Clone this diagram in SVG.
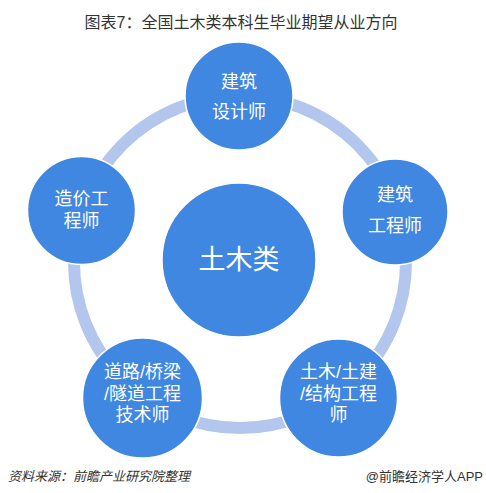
<svg xmlns="http://www.w3.org/2000/svg" width="486" height="493" viewBox="0 0 486 493">
<style>
.node{fill:#3f87e0;stroke:#ffffff;stroke-width:1.5}
.lbl{font-family:"Liberation Sans","Noto Sans CJK SC",sans-serif;font-size:18px;fill:#ffffff;text-anchor:middle;dominant-baseline:central}
.ring{fill:none;stroke:#b3c6ee;stroke-width:12}
</style>
<rect width="486" height="493" fill="#ffffff"/>
<text x="241" y="28" font-family="'Liberation Sans','Noto Sans CJK SC',sans-serif" font-size="16" fill="#333333" text-anchor="middle">图表7：全国土木类本科生毕业期望从业方向</text>
<g id="connectors">
<circle class="ring" cx="240" cy="262" r="166"/>
</g>
<g id="center">
<circle class="node" cx="239" cy="260" r="77"/>
<text class="lbl" x="239" y="260" font-size="27" style="font-size:27px">土木类</text>
</g>
<g id="top">
<circle class="node" cx="239" cy="96" r="54"/>
<text class="lbl" x="239" y="82">建筑</text>
<text class="lbl" x="239" y="112">设计师</text>
</g>
<g id="right">
<circle class="node" cx="395" cy="212" r="53"/>
<text class="lbl" x="395" y="195">建筑</text>
<text class="lbl" x="395" y="226">工程师</text>
</g>
<g id="left">
<circle class="node" cx="81.5" cy="210.5" r="54"/>
<text class="lbl" x="81.5" y="199">造价工</text>
<text class="lbl" x="81.5" y="221">程师</text>
</g>
<g id="bottomright">
<circle class="node" cx="338.5" cy="398" r="59"/>
<text class="lbl" x="338.5" y="372">土木/土建</text>
<text class="lbl" x="338.5" y="394">/结构工程</text>
<text class="lbl" x="338.5" y="415">师</text>
</g>
<g id="bottomleft">
<circle class="node" cx="142.5" cy="398" r="60"/>
<text class="lbl" x="142.5" y="372">道路/桥梁</text>
<text class="lbl" x="142.5" y="394">/隧道工程</text>
<text class="lbl" x="142.5" y="415">技术师</text>
</g>
<text x="8" y="481" font-family="'Liberation Sans','Noto Sans CJK SC',sans-serif" font-size="13" font-style="italic" fill="#333333" transform="skewX(0)">资料来源：前瞻产业研究院整理</text>
<text x="483" y="481" font-family="'Liberation Sans','Noto Sans CJK SC',sans-serif" font-size="13" fill="#333333" text-anchor="end">@前瞻经济学人APP</text>
</svg>
